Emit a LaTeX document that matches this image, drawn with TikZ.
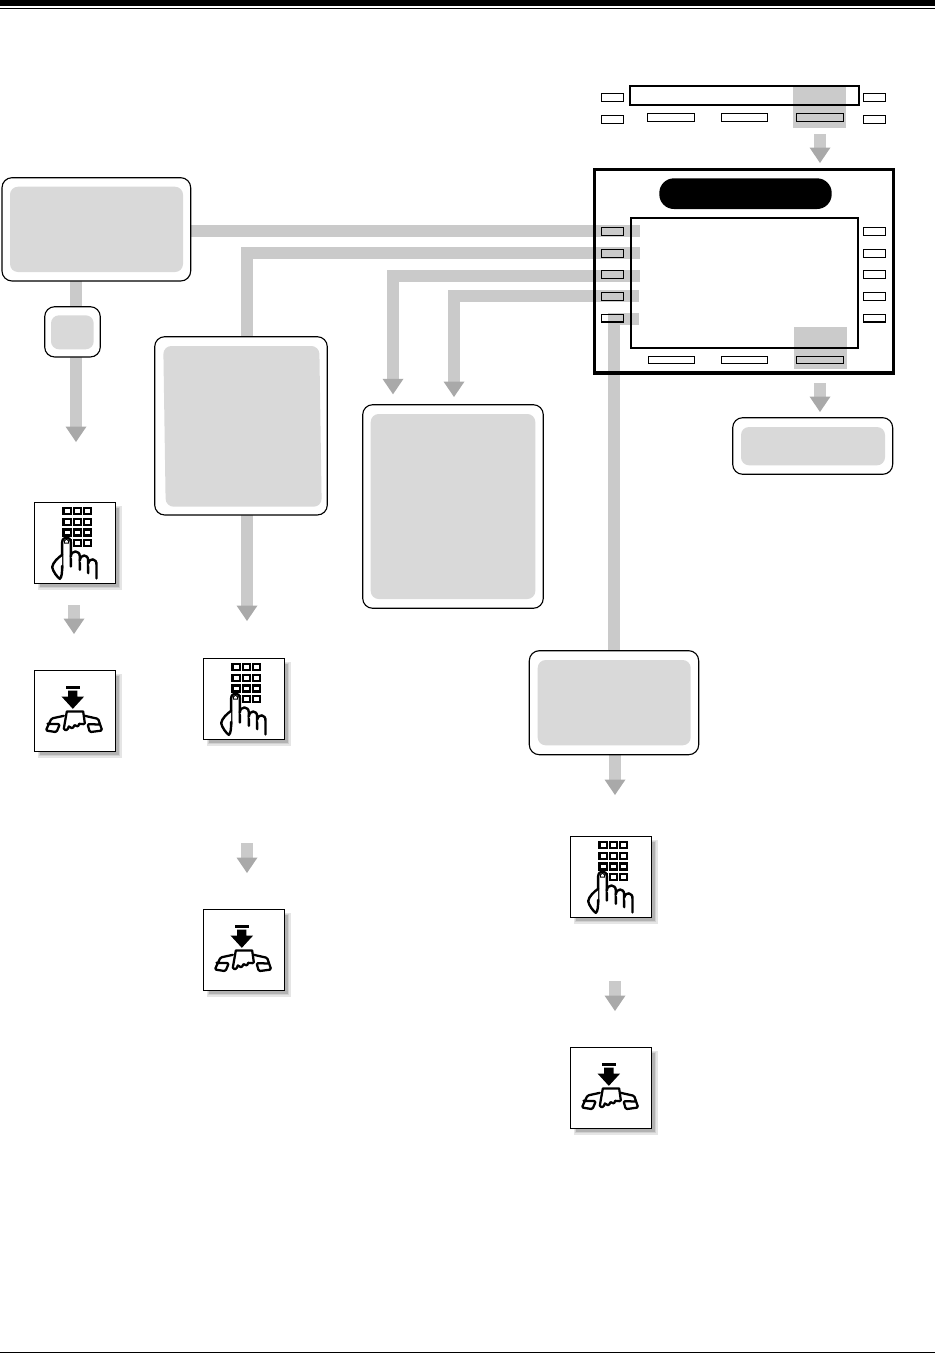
\documentclass[tikz,border=0pt]{standalone}
\usetikzlibrary{arrows.meta,backgrounds}
\definecolor{flowgray}{HTML}{CACACA}
\definecolor{headgray}{HTML}{A9A9A9}
\definecolor{panelgray}{HTML}{D9D9D9}
\definecolor{hilite}{HTML}{CBCBCB}
\newcommand{\rn}[6]{\node[#2,minimum width={(#5-#3)*0.75pt},minimum height={(#6-#4)*0.75pt}] (#1) at ({(#3+#5)/2},{(#4+#6)/2}) {};}
\tikzset{
  every node/.style={inner sep=0pt,outer sep=0pt},
  frame/.style={draw=black,fill=white,line width=0.85pt,rounded corners=7.5pt},
  panel/.style={fill=panelgray,rounded corners=6pt},
  key/.style={draw=black,line width=0.8pt},
  hi/.style={fill=hilite},
  flow/.style={draw=flowgray,line width=9pt},
  flowto/.style={flow,-{Triangle[length=11.6pt,width=15.75pt,color=headgray,fill=headgray,line width=0pt]}},
  iconbox/.style={draw=black,fill=white,line width=0.9pt},
  glyph/.style={draw=black,line width=1.8pt,line join=round,line cap=round},
  earline/.style={draw=black,line width=1.7pt,line join=round,line cap=round},
  keycap/.style={draw=black,line width=1.6pt},
  shadow1/.style={fill=black!10},
  shadow2/.style={fill=black!18},
  shadow3/.style={fill=black!30},
  keypad/.pic={
    \begin{scope}[scale=0.3333,shift={(-44,-38)}]
      \foreach \yy in {55,87,119,151}
        \foreach \xx in {131,162,192}
          \draw[keycap] (\xx,\yy) rectangle ++(22,18);
      \draw[glyph,fill=white] (127,235) -- (127,158) .. controls (127,138) and (153,138) .. (153,158) -- (153,230);
      \draw[glyph,fill=white] (153,200) .. controls (154,180) and (180,180) .. (180,200) -- (180,240);
      \draw[glyph,fill=white] (180,212) .. controls (182,192) and (205,192) .. (205,212) -- (205,250);
      \draw[glyph,fill=white] (205,222) .. controls (208,202) and (232,205) .. (230,226) -- (230,266);
      \draw[glyph,fill=white] (127,195) .. controls (115,203) and (99,218) .. (97,232) .. controls (99,244) and (112,262) .. (120,267) .. controls (126,262) and (127,248) .. (127,228);
      \draw[black,line width=0.7pt] (134,160) -- (134,153) -- (140,148) -- (146,153) -- (146,160) -- cycle;
    \end{scope}
  },
  handset/.pic={
    \begin{scope}[scale=0.3333,shift={(-44,-30)}]
      \fill[black] (138,77) rectangle (180,84);
      \fill[black] (145,90) -- (173,90) -- (173,108) -- (193,108) -- (159,145) -- (125,108) -- (145,108) -- cycle;
      \draw[earline] (141,153) -- (190,153) -- (195,188) .. controls (190,196) and (184,186) .. (178,190) .. controls (176,200) and (170,198) .. (164,194) .. controls (160,206) and (152,204) .. (147,198) .. controls (144,210) and (136,212) .. (132,204) -- cycle;
      \draw[earline,rounded corners=1pt] (132,166) -- (95,174) -- (78,210) -- (110,215) -- (120,191) -- (83,190);
      \draw[earline,rounded corners=1pt] (195,166) -- (235,175) -- (247,210) -- (210,215) -- (203,191) -- (240,192);
    \end{scope}
  }
}
\newcommand{\icon}[4]{% name, pic, x, y
  \fill[shadow1] (#3+3,#4+3) rectangle (#3+87,#4+87);
  \fill[shadow2] (#3+4,#4+4) rectangle (#3+85.5,#4+85.5);
  \fill[shadow3] (#3+5,#4+5) rectangle (#3+84,#4+84);
  \node[iconbox,minimum width=60.75pt,minimum height=60.75pt] (#1) at (#3+40.5,#4+40.5) {};
  \pic at (#3,#4) {#2};
}
\begin{document}
\begin{tikzpicture}[x=0.75pt,y=-0.75pt]
\useasboundingbox (0,0) rectangle (935,1353);
% page rules
\fill[black] (0,0) rectangle (935,5.7);
\fill[black] (0,8) rectangle (935,9);
\fill[black] (0,1352) rectangle (935,1353);

% top row display
\rn{topdisp}{draw=black,line width=1.5pt}{629.5}{85.5}{859}{104.5}
\rn{tl1}{key}{601.3}{93.3}{623.3}{101.3}
\rn{tl2}{key}{601.3}{115.3}{623.3}{123.3}
\rn{tr1}{key}{863.3}{93.3}{885.3}{101.3}
\rn{tr2}{key}{863.3}{115.3}{885.3}{123.3}
\rn{ts1}{key}{647.3}{113.5}{694.3}{121.5}
\rn{ts2}{key}{721.3}{113.5}{767.3}{121.5}
\rn{ts3}{key}{796.3}{113.5}{843.7}{121.5}

% phone panel
\rn{phone}{draw=black,line width=2.6pt}{594.3}{169.5}{893.7}{373}
\rn{pill}{fill=black,rounded corners=11pt}{659.3}{178.3}{831.7}{209}
\rn{screen}{draw=black,line width=1.5pt}{631}{218}{858.3}{348}
\foreach \n/\a/\b in {1/227.3/235.3,2/249.3/257.3,3/270.5/278.5,4/292.3/300.5,5/314.3/322}{
  \rn{kl\n}{key}{601.3}{\a}{623.3}{\b}
  \rn{kr\n}{key}{863.3}{\a}{885.3}{\b}
}
\rn{bs1}{key}{648.3}{356.3}{694.3}{363.7}
\rn{bs2}{key}{721.3}{356.3}{767.3}{363.7}
\rn{bs3}{key}{796.3}{356.3}{843.7}{363.7}

% text boxes
\rn{b1}{frame}{2}{177.7}{190.7}{281}
\rn{b1i}{panel}{10}{186.7}{183}{272}
\rn{s1}{frame}{44.7}{306.7}{100.3}{357}
\rn{s1i}{panel}{51}{315.3}{93.7}{349.3}
\rn{b2}{frame}{154.7}{336.7}{327.3}{515}
\fill[panelgray,rounded corners=6pt] (163.3,346) -- (319.3,346) -- (321.7,506.7) -- (165.7,506.7) -- cycle;
\rn{b3}{frame}{362.7}{404.7}{543.3}{608.3}
\rn{b3i}{panel}{370.7}{414}{535.3}{599}
\rn{b4}{frame}{529.3}{650.7}{698.7}{754.7}
\rn{b4i}{panel}{537.7}{660}{690.7}{745.3}
\rn{b5}{frame}{732.7}{417.7}{892.7}{474.3}
\rn{b5i}{panel}{741}{427}{885}{465.3}

% icons
\icon{pad1}{keypad}{34.5}{502.5}
\icon{hs1}{handset}{34.5}{670.5}
\icon{pad2}{keypad}{203.5}{658.5}
\icon{hs2}{handset}{203.5}{909.5}
\icon{pad3}{keypad}{570.5}{836.5}
\icon{hs3}{handset}{570.5}{1047.5}

% connector ends
\coordinate (e1) at (640,231);
\coordinate (e2) at (640,253);
\coordinate (e3) at (640,276);
\coordinate (e4) at (639,296);
\coordinate (e5) at (639,319);
\coordinate (t3) at (393,394.3);
\coordinate (t4) at (454,397);
\coordinate (t1) at (76,442);
\coordinate (t2) at (247,621);
\coordinate (t5) at (615,795);
\coordinate (top5) at (614.3,313);
\coordinate (atop) at (820,134);
\coordinate (atopE) at (820,163);
\coordinate (abot) at (820,383);
\coordinate (abotE) at (820,412);
\coordinate (a1) at (74,605);
\coordinate (a1E) at (74,634);
\coordinate (a2) at (247,843);
\coordinate (a2E) at (247,873);
\coordinate (a3) at (615,981);
\coordinate (a3E) at (615,1011);

\begin{scope}[on background layer]
  \fill[hi] (793,85) rectangle (846,128);
  \fill[hi] (794,327) rectangle (847,369);
  \draw[flow] (b1.east |- e1) -- (e1);
  \draw[flow] (e2) -| (b2.north -| t2);
  \draw[flowto] (e3) -| (t3);
  \draw[flowto] (e4) -| (t4);
  \draw[flow] (e5) -- (top5 |- e5);
  \draw[flow] (top5) -- (b4.north -| top5);
  \draw[flow] (b1.south -| t1) -- (s1.north -| t1);
  \draw[flowto] (s1.south -| t1) -- (t1);
  \draw[flowto] (b2.south -| t2) -- (t2);
  \draw[flowto] (b4.south -| t5) -- (t5);
  \draw[flowto] (atop) -- (atopE);
  \draw[flowto] (abot) -- (abotE);
  \draw[flowto] (a1) -- (a1E);
  \draw[flowto] (a2) -- (a2E);
  \draw[flowto] (a3) -- (a3E);
\end{scope}
\end{tikzpicture}
\end{document}
